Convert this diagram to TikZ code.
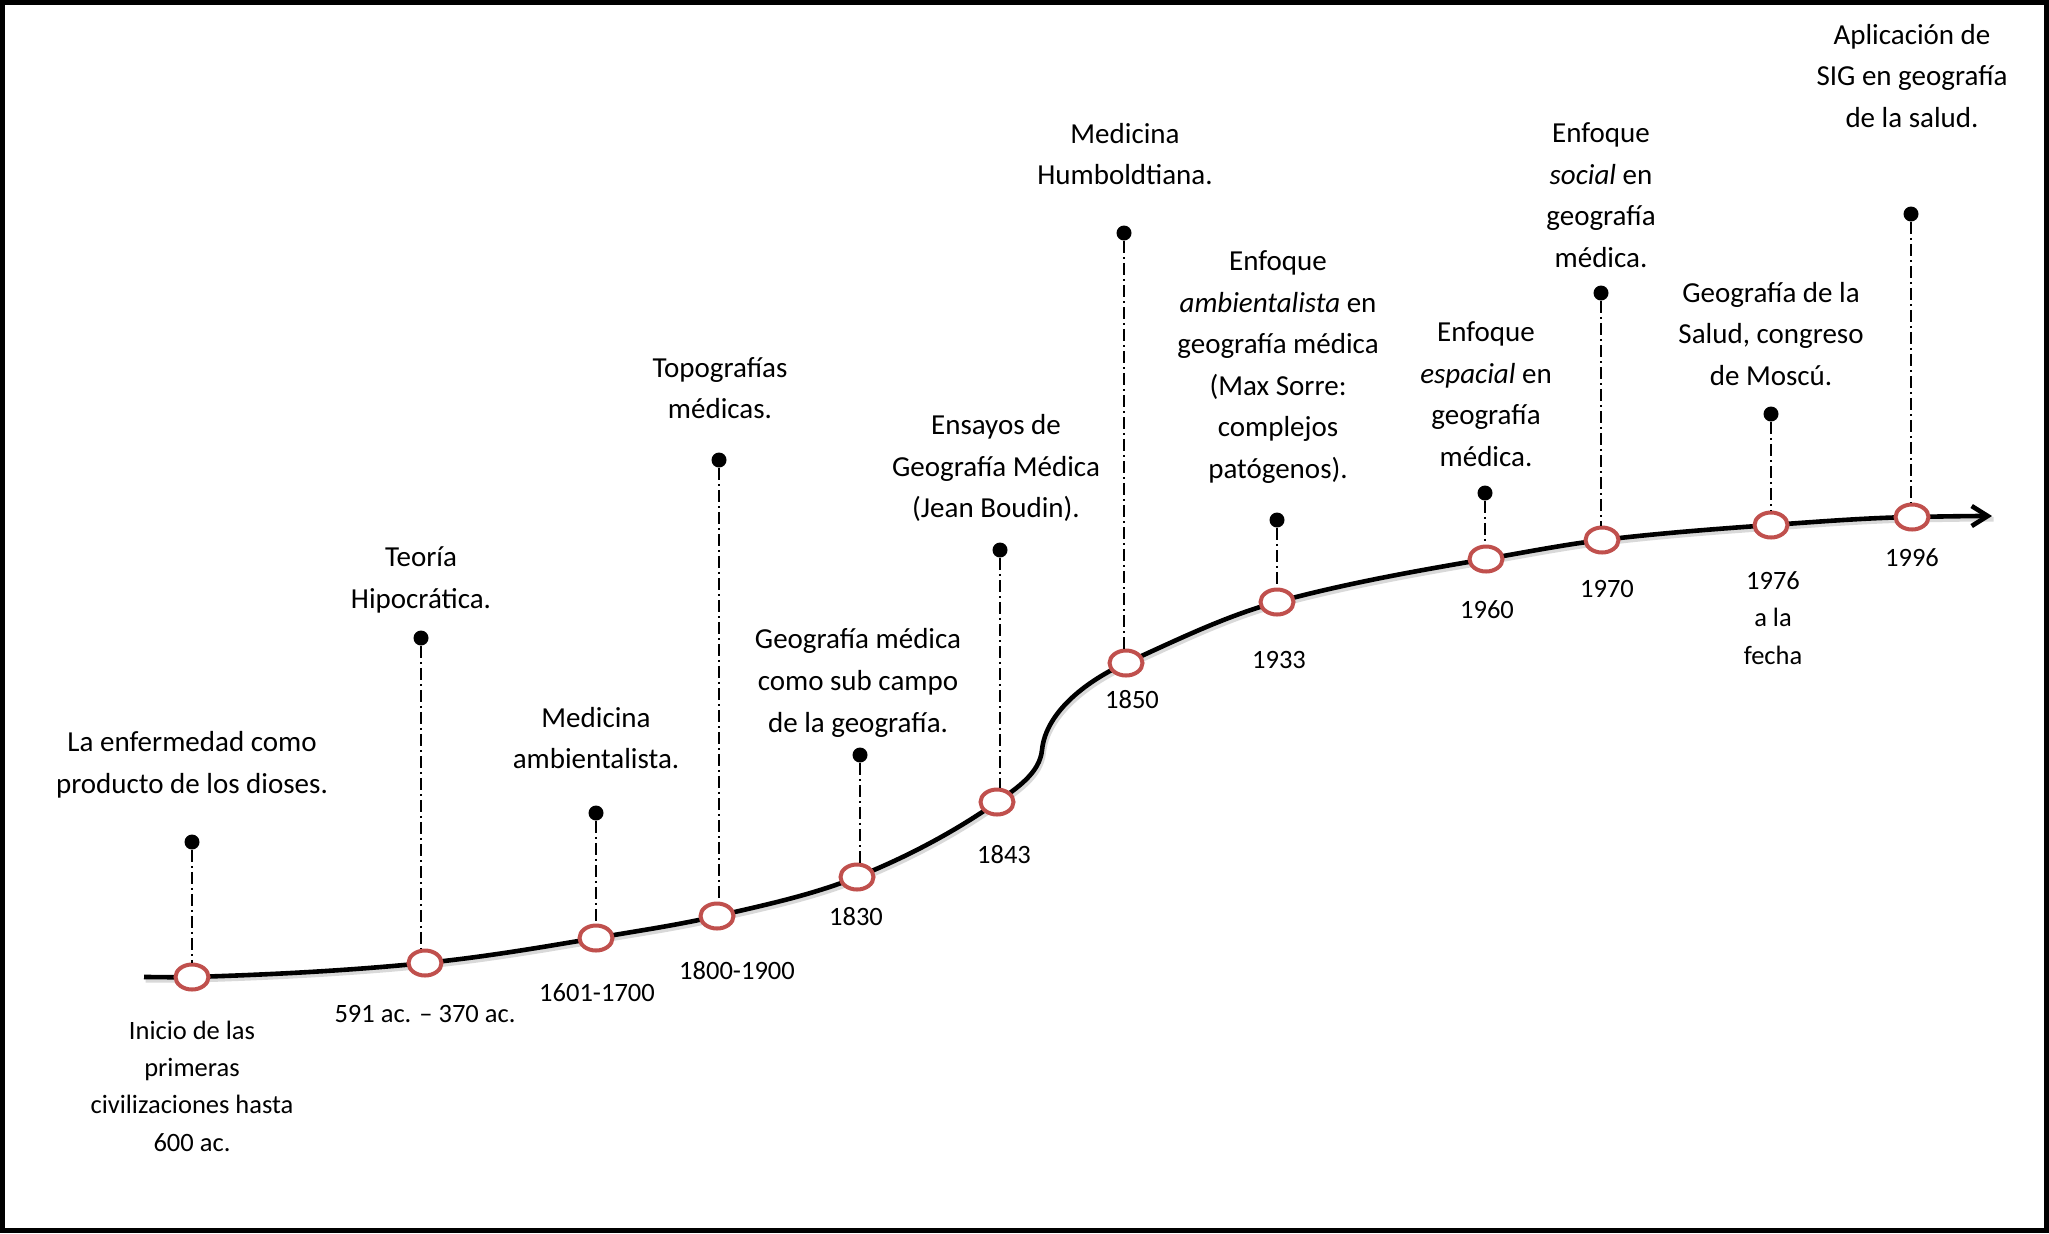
\documentclass[tikz,border=0pt]{standalone}
\usepackage{fontspec}
\setmainfont{Carlito}
\usetikzlibrary{shapes.geometric,arrows.meta}
\definecolor{ringred}{HTML}{C0504D}
\begin{document}
\begin{tikzpicture}[x=0.5pt,y=-0.5pt,
  evtext/.style={font=\fontsize{14.5}{20.8}\selectfont, align=center, inner sep=0pt},
  datetext/.style={font=\fontsize{13.25}{18.7}\selectfont, align=center, inner sep=0pt},
  ring/.style={ellipse, draw=ringred, line width=2pt, fill=white, minimum width=16.5pt, minimum height=12.5pt, inner sep=0pt},
  pin/.style={circle, fill=black, inner sep=0pt, minimum size=7.5pt},
  stem/.style={line width=1pt, dash pattern=on 6pt off 2pt on 1pt off 2pt},
  timeline/.style={line width=2.3pt},
]
\useasboundingbox (0,0) rectangle (2049,1233);
\draw[line width=2.5pt] (2.5,2.5) rectangle (2046.5,1230.5);

% timeline points
\coordinate (s0) at (144,977);
\coordinate (c1) at (192,977);
\coordinate (c2) at (425,963);
\coordinate (c3) at (596,938);
\coordinate (c4) at (717,916);
\coordinate (c5) at (857,877);
\coordinate (c6) at (997,802);
\coordinate (v) at (1042,750);
\coordinate (c7) at (1126,663);
\coordinate (c8) at (1277,602);
\coordinate (c9) at (1486,559);
\coordinate (c10) at (1602,540);
\coordinate (c11) at (1771,525);
\coordinate (c12) at (1912,517);
\coordinate (e0) at (1992,516);

\def\timelinepath{(s0) .. controls (160,977) and (176,977.5) .. (c1)
  .. controls (269.8,974.7) and (347.6,970.7) .. (c2)
  .. controls (482.3,957.3) and (539.2,947.7) .. (c3)
  .. controls (636.4,931.1) and (677,925.2) .. (c4)
  .. controls (764.2,905.2) and (812.1,895) .. (c5)
  .. controls (906.1,857.4) and (953.7,832.3) .. (c6)
  .. controls (1016.2,788.6) and (1039.7,773.3) .. (v)
  .. controls (1046,710.4) and (1089.7,679.3) .. (c7)
  .. controls (1175.5,640.7) and (1224.6,616.2) .. (c8)
  .. controls (1345.6,583.4) and (1415.9,570.9) .. (c9)
  .. controls (1524.7,552.4) and (1563.1,544.7) .. (c10)
  .. controls (1658.2,533.3) and (1714.5,529) .. (c11)
  .. controls (1818,521.7) and (1864.9,517.9) .. (c12)
  .. controls (1938.7,516.5) and (1965.3,516) .. (e0)}

% shadow
\draw[black!25, line width=2.3pt, opacity=0.6, transform canvas={shift={(0.8pt,-1.6pt)}}] \timelinepath;
% main line
\draw[timeline, -{Straight Barb[length=8pt,width=10pt]}] \timelinepath;

% rings
\foreach \i in {1,...,12} { \node[ring] (r\i) at (c\i) {}; }

% pins and stems
\node[pin] (p1) at (192,842) {};
\node[pin] (p2) at (421,638) {};
\node[pin] (p3) at (596,813) {};
\node[pin] (p4) at (719,460) {};
\node[pin] (p5) at (860,755) {};
\node[pin] (p6) at (1000,550) {};
\node[pin] (p7) at (1124,233) {};
\node[pin] (p8) at (1277,520) {};
\node[pin] (p9) at (1485,493) {};
\node[pin] (p10) at (1601,293) {};
\node[pin] (p11) at (1771,414) {};
\node[pin] (p12) at (1911,214) {};
\foreach \i in {1,...,12} { \draw[stem] (p\i) -- (p\i |- r\i.north); }

% event texts
\node[evtext] (t1) at (192,765) {La enfermedad como\\producto de los dioses.};
\node[evtext] (t2) at (421,580) {Teoría\\Hipocrática.};
\node[evtext] (t3) at (596,738) {Medicina\\ambientalista.};
\node[evtext] (t4) at (720,388) {Topografías\\médicas.};
\node[evtext] (t5) at (858,683) {Geografía médica\\como sub campo\\de la geografía.};
\node[evtext] (t6) at (996,468) {Ensayos de\\Geografía Médica\\(Jean Boudin).};
\node[evtext] (t7) at (1125,154) {Medicina\\Humboldtiana.};
\node[evtext] (t8) at (1278,367) {Enfoque\\\textit{ambientalista} en\\geografía médica\\(Max Sorre:\\complejos\\patógenos).};
\node[evtext] (t9) at (1486,394) {Enfoque\\\textit{espacial} en\\geografía\\médica.};
\node[evtext] (t10) at (1601,195) {Enfoque\\\textit{social} en\\geografía\\médica.};
\node[evtext] (t11) at (1771,334) {Geografía de la\\Salud, congreso\\de Moscú.};
\node[evtext] (t12) at (1912,76) {Aplicación de\\SIG en geografía\\de la salud.};

% date texts
\node[datetext] (d1) at (192,1086) {Inicio de las\\primeras\\civilizaciones hasta\\600 ac.};
\node[datetext] (d2) at (425,1014) {591 ac. – 370 ac.};
\node[datetext] (d3) at (597,993) {1601-1700};
\node[datetext] (d4) at (737,971) {1800-1900};
\node[datetext] (d5) at (856,917) {1830};
\node[datetext] (d6) at (1004,855) {1843};
\node[datetext] (d7) at (1132,700) {1850};
\node[datetext] (d8) at (1279,660) {1933};
\node[datetext] (d9) at (1487,610) {1960};
\node[datetext] (d10) at (1607,589) {1970};
\node[datetext] (d11) at (1773,618) {1976\\a la\\fecha};
\node[datetext] (d12) at (1912,558) {1996};
\end{tikzpicture}
\end{document}
